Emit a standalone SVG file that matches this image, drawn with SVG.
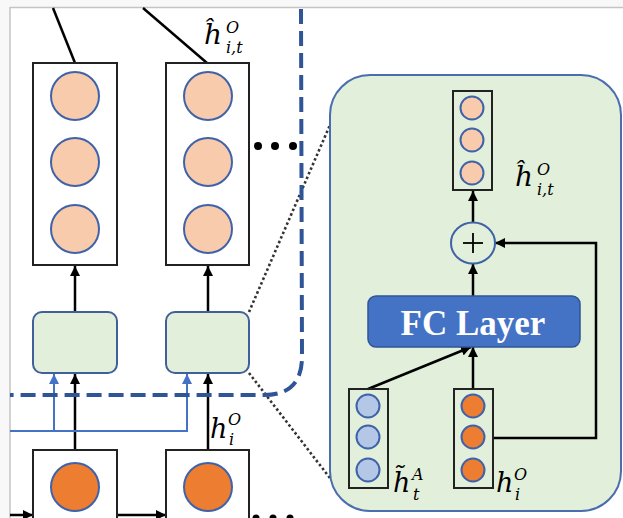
<svg xmlns="http://www.w3.org/2000/svg" width="623" height="518" viewBox="0 0 623 518">
<defs>
<marker id="ah" viewBox="0 0 10 10" refX="10" refY="5" markerWidth="10" markerHeight="10" markerUnits="userSpaceOnUse" orient="auto"><path d="M0,0 L10,5 L0,10 z" fill="#000"/></marker>
<marker id="ahb" viewBox="0 0 10 10" refX="10" refY="5" markerWidth="10" markerHeight="10" markerUnits="userSpaceOnUse" orient="auto"><path d="M0,0 L10,5 L0,10 z" fill="#4472C4"/></marker>
</defs>
<style>
.vbox{fill:#fff;stroke:#222;stroke-width:2}
.vbox2{fill:none;stroke:#222;stroke-width:2}
.lo{fill:#F8CBAD;stroke:#3F62A8;stroke-width:2}
.do{fill:#ED7D31;stroke:#3F62A8;stroke-width:2}
.lb{fill:#B4C7E7;stroke:#3F62A8;stroke-width:2}
.gb{fill:#E2EFDA;stroke:#41609A;stroke-width:2}
.ln{stroke:#000;stroke-width:2.5;fill:none}
.bl{stroke:#4472C4;stroke-width:2;fill:none}
.dot{stroke:#333;stroke-width:2.6;stroke-dasharray:2.5,2.5;fill:none}
.m{font-family:"DejaVu Serif","Liberation Serif",serif;font-style:italic;fill:#000}
</style>
<rect x="0" y="0" width="623" height="518" fill="#fff"/>
<rect x="0" y="0" width="623" height="7" fill="#f8f8f8"/>
<rect x="0" y="0" width="10" height="518" fill="#f8f8f8"/>
<path d="M10,518 L10,7.5 L623,7.5" fill="none" stroke="#c4c4c4" stroke-width="1.5"/>

<g id="connectors">
<line class="ln" x1="53" y1="8" x2="75" y2="63"/>
<line class="ln" x1="143" y1="8" x2="207" y2="63"/>
<line class="ln" x1="75" y1="312" x2="75" y2="266" marker-end="url(#ah)"/>
<line class="ln" x1="208" y1="312" x2="208" y2="266" marker-end="url(#ah)"/>
<line class="ln" x1="75" y1="450" x2="75" y2="374" marker-end="url(#ah)"/>
<line class="ln" x1="208" y1="450" x2="208" y2="374" marker-end="url(#ah)"/>
<path class="bl" d="M10,431 L187,431 L187,374" marker-end="url(#ahb)"/>
<line class="bl" x1="54" y1="431" x2="54" y2="374" marker-end="url(#ahb)"/>
<line class="ln" x1="10" y1="515" x2="33" y2="515" marker-end="url(#ah)"/>
<line class="ln" x1="117" y1="515" x2="166" y2="515" marker-end="url(#ah)"/>
<line class="dot" x1="249" y1="312" x2="333" y2="118"/>
<line class="dot" x1="249" y1="373" x2="333" y2="482"/>
</g>

<path d="M301,9 L302,357 Q302,395 264,395 L10,395" fill="none" stroke="#2F5597" stroke-width="4" stroke-dasharray="15,7"/>

<g id="col1-out">
<rect class="vbox" x="33" y="63" width="84" height="202"/>
<circle class="lo" cx="75" cy="96" r="24"/>
<circle class="lo" cx="75" cy="162" r="24"/>
<circle class="lo" cx="75" cy="229" r="24"/>
</g>
<g id="col2-out">
<rect class="vbox" x="166" y="63" width="83" height="202"/>
<circle class="lo" cx="208" cy="96" r="24"/>
<circle class="lo" cx="208" cy="162" r="24"/>
<circle class="lo" cx="208" cy="229" r="24"/>
</g>
<g id="label-top">
<text class="m" x="204" y="44" font-size="28">ĥ</text>
<text class="m" x="226" y="33" font-size="16">O</text>
<text class="m" x="226" y="53" font-size="16">i,t</text>
</g>
<g id="dots-top" fill="#000">
<circle cx="258" cy="146" r="4"/><circle cx="275" cy="146" r="4"/><circle cx="293" cy="146" r="4"/>
</g>
<g id="col1-fc"><rect class="gb" x="33" y="312" width="84" height="61" rx="9"/></g>
<g id="col2-fc"><rect class="gb" x="166" y="312" width="83" height="61" rx="9"/></g>
<g id="col1-in">
<rect class="vbox" x="33" y="450" width="84" height="80"/>
<circle class="do" cx="75" cy="487" r="24"/>
</g>
<g id="col2-in">
<rect class="vbox" x="166" y="450" width="83" height="80"/>
<circle class="do" cx="208" cy="487" r="24"/>
</g>
<g id="label-hi">
<text class="m" x="210" y="438" font-size="27">h</text>
<text class="m" x="228" y="425" font-size="16">O</text>
<text class="m" x="229" y="445" font-size="16">i</text>
</g>
<g id="dots-bottom" fill="#000">
<circle cx="256" cy="518" r="3.5"/><circle cx="273" cy="518" r="3.5"/><circle cx="290" cy="518" r="3.5"/>
</g>

<g id="panel">
<rect x="330" y="75" width="291" height="436" rx="40" fill="#E2EFDA" stroke="#4A6DAF" stroke-width="2"/>
</g>
<g id="panel-connectors">
<line class="ln" x1="473" y1="222" x2="473" y2="191" marker-end="url(#ah)" stroke-width="2"/>
<line class="ln" x1="473" y1="297" x2="473" y2="264" marker-end="url(#ah)" stroke-width="2"/>
<path class="ln" stroke-width="2" d="M493,438 L596,438 L596,243 L495,243" marker-end="url(#ah)"/>
<line class="ln" stroke-width="2" x1="368" y1="389" x2="471" y2="347" marker-end="url(#ah)"/>
<line class="ln" stroke-width="2" x1="473" y1="389" x2="473" y2="347" marker-end="url(#ah)"/>
</g>
<g id="out-vec">
<rect class="vbox2" x="453" y="91" width="39" height="99"/>
<circle class="lo" cx="472" cy="108" r="11.5"/>
<circle class="lo" cx="472" cy="140" r="11.5"/>
<circle class="lo" cx="472" cy="173" r="11.5"/>
</g>
<g id="label-out">
<text class="m" x="515" y="186" font-size="28">ĥ</text>
<text class="m" x="537" y="175" font-size="16">O</text>
<text class="m" x="537" y="195" font-size="16">i,t</text>
</g>
<g id="plus">
<ellipse cx="473" cy="243" rx="22" ry="20.5" fill="#E2EFDA" stroke="#3F62A8" stroke-width="2"/>
<line x1="463" y1="243" x2="483" y2="243" stroke="#000" stroke-width="1.8"/>
<line x1="473" y1="233" x2="473" y2="253" stroke="#000" stroke-width="1.8"/>
</g>
<g id="fc-layer">
<rect x="368" y="296" width="212" height="51" rx="8" fill="#4472C4" stroke="#2F5597" stroke-width="1.5"/>
<text x="473" y="335" font-size="35" font-weight="bold" text-anchor="middle" font-family="'Liberation Serif','Times New Roman',serif" fill="#fff">FC Layer</text>
</g>
<g id="a-vec">
<rect class="vbox2" x="349" y="389" width="39" height="99"/>
<circle class="lb" cx="368" cy="406" r="11.5"/>
<circle class="lb" cx="368" cy="437" r="11.5"/>
<circle class="lb" cx="368" cy="470" r="11.5"/>
</g>
<g id="o-vec">
<rect class="vbox2" x="454" y="389" width="39" height="99"/>
<circle class="do" cx="473" cy="406" r="11.5"/>
<circle class="do" cx="473" cy="437" r="11.5"/>
<circle class="do" cx="473" cy="470" r="11.5"/>
</g>
<g id="label-a">
<text class="m" x="393" y="492" font-size="27">h̃</text>
<text class="m" x="412" y="480" font-size="16">A</text>
<text class="m" x="413" y="500" font-size="16">t</text>
</g>
<g id="label-o">
<text class="m" x="496" y="492" font-size="27">h</text>
<text class="m" x="514" y="480" font-size="16">O</text>
<text class="m" x="515" y="500" font-size="16">i</text>
</g>
</svg>
